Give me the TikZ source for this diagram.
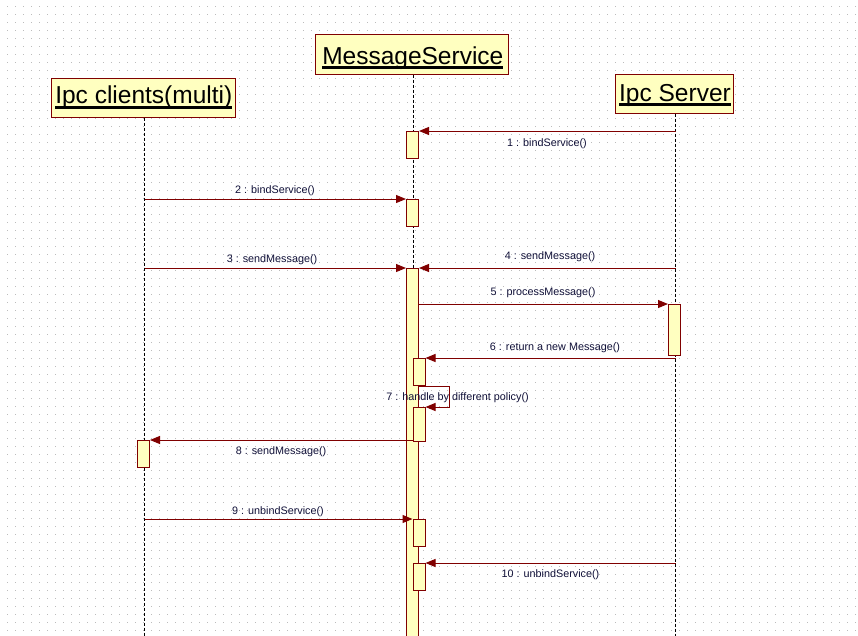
\documentclass[tikz,border=0pt]{standalone}
\usepackage{fontspec}
\setmainfont{Liberation Sans}
\usetikzlibrary{arrows.meta}
\definecolor{umlred}{RGB}{128,0,0}
\definecolor{umlfill}{RGB}{255,255,192}
\definecolor{umltext}{RGB}{16,16,56}
\definecolor{griddot}{RGB}{188,188,188}
\newcommand\hdul[1]{\setbox0=\hbox{#1}\rlap{\rule[-5pt]{\wd0}{2.6pt}}\box0}
\begin{document}
\begin{tikzpicture}[x=1pt,y=-1pt,
  head/.style={draw=umlred, fill=umlfill, line width=1pt, inner sep=0pt},
  headtxt/.style={anchor=base, inner sep=0pt, text=black, font=\fontsize{24.5}{28}\selectfont},
  act/.style={draw=umlred, fill=umlfill, line width=1pt, inner sep=0pt, minimum width=12pt, anchor=north},
  lifeline/.style={black, line width=1pt, dash pattern=on 3pt off 2pt},
  msg/.style={umlred, line width=1pt, -{Triangle[length=10pt,width=8pt]}},
  lbl/.style={anchor=base, inner sep=0pt, text=umltext, font=\fontsize{10.8}{12}\selectfont},
  dotrow/.style={griddot, line width=1pt, dash pattern=on 1pt off 7pt}]
\path[use as bounding box] (0,0) rectangle (858,635);
\clip (0,0) rectangle (858,635);
\fill[white] (0,0) rectangle (858,635);
% dotted grid
\foreach \j in {0,...,78} \draw[dotrow] (7,{6.5+8*\j}) -- (858,{6.5+8*\j});
% heads
\node[head, minimum width=184pt, minimum height=39pt] (clbox) at (143.5,97.5) {};
\node[head, minimum width=193pt, minimum height=40pt] (msbox) at (412,54) {};
\node[head, minimum width=118pt, minimum height=39pt] (svbox) at (674.5,93.5) {};
\node[headtxt] (cltxt) at (143.8,103.5) {\hdul{Ipc clients(multi)}};
\node[headtxt] (mstxt) at (412.8,64) {\hdul{MessageService}};
\node[headtxt] (svtxt) at (675,101) {\hdul{Ipc Server}};
% lifelines
\coordinate (clx) at (144.5,0);
\coordinate (msx) at (413.5,0);
\coordinate (svx) at (675.5,0);
\coordinate (bot) at (0,640);
\draw[lifeline] (clbox.south -| clx) -- (bot -| clx);
\draw[lifeline] (msbox.south -| msx) -- (bot -| msx);
\draw[lifeline] (svbox.south -| svx) -- (bot -| svx);
% activations
\node[act, minimum height=27pt] (a1) at (412.5,131) {};
\node[act, minimum height=27pt] (a2) at (412.5,199) {};
\node[act, minimum height=380pt] (along) at (412.5,268) {};
\node[act, minimum height=27pt] (n1) at (419,358) {};
\node[act, minimum height=34pt] (n2) at (419,407) {};
\node[act, minimum height=27pt] (n3) at (419,519) {};
\node[act, minimum height=27pt] (n4) at (419,563) {};
\node[act, minimum height=51pt] (s1) at (674.5,304) {};
\node[act, minimum height=27pt] (c1) at (143.5,440) {};
% messages
\draw[msg] (svx |- a1.north) -- (a1.north east);
\draw[msg] (clx |- a2.north) -- (a2.north west);
\draw[msg] (clx |- along.north) -- (along.north west);
\draw[msg] (svx |- along.north) -- (along.north east);
\draw[msg] (s1.north west -| along.east) -- (s1.north west);
\draw[msg] (svx |- n1.north) -- (n1.north east);
\coordinate (l7a) at (449,386);
\coordinate (l7b) at (449,407);
\draw[msg] (l7a -| along.east) -- (l7a) -- (l7b) -- (n2.north east);
\draw[msg] (c1.north east -| n2.west) -- (c1.north east);
\draw[msg] (clx |- n3.north) -- (n3.north west);
\draw[msg] (svx |- n4.north) -- (n4.north east);
% labels
\node[lbl] (m1) at (547,146) {1 : bindService()};
\node[lbl] (m2) at (275,193.3) {2 : bindService()};
\node[lbl] (m3) at (272,262) {3 : sendMessage()};
\node[lbl] (m4) at (550,259.5) {4 : sendMessage()};
\node[lbl] (m5) at (543,295) {5 : processMessage()};
\node[lbl] (m6) at (555,350) {6 : return a new Message()};
\node[lbl] (m7) at (457.5,400) {7 : handle by different policy()};
\node[lbl] (m8) at (281,454.3) {8 : sendMessage()};
\node[lbl] (m9) at (278,514) {9 : unbindService()};
\node[lbl] (m10) at (550.5,577.3) {10 : unbindService()};
\end{tikzpicture}
\end{document}
